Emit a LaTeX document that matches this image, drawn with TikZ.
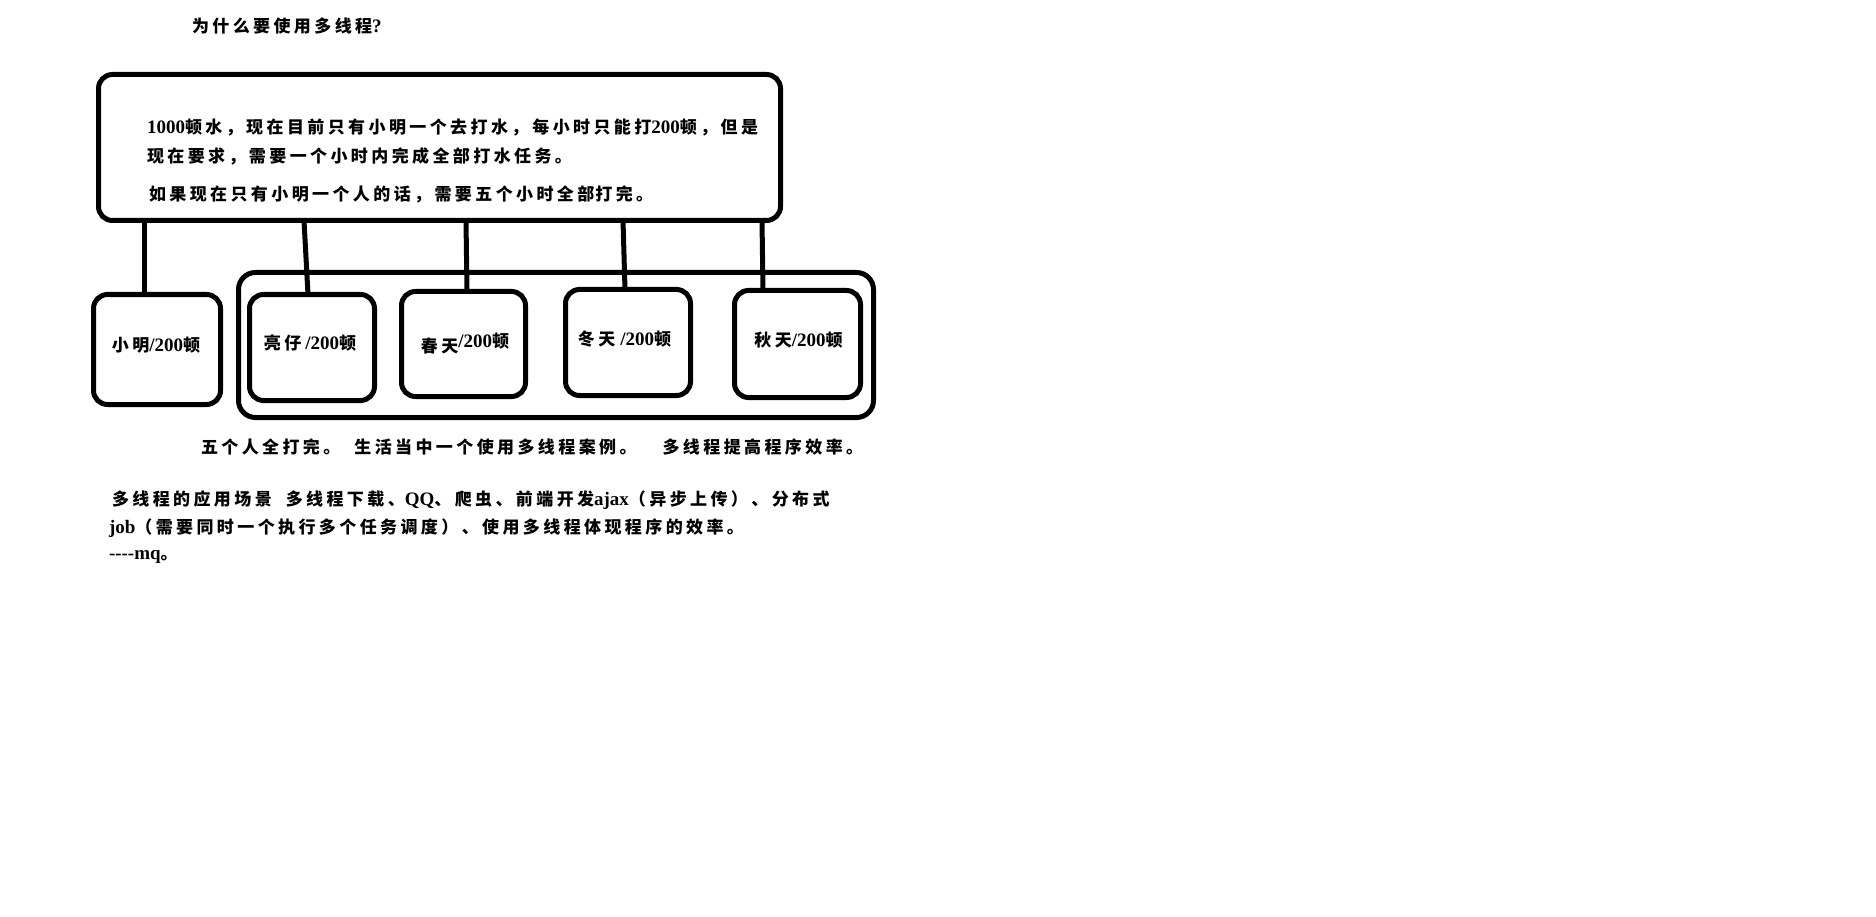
\documentclass[tikz,border=0pt]{standalone}
\usepackage{fontspec}
% Chinese body text: heavy sans with a little tracking; Latin runs in a bold serif
\setmainfont{Noto Sans CJK SC}[LetterSpace=20]
\newfontfamily\latinfont{Liberation Serif}
\newcommand\lat[1]{{\latinfont\bfseries\fontsize{19}{22}\selectfont #1}}
\newcommand\bodyfont{\fontsize{17}{20}\selectfont\bfseries}

\begin{document}
\begin{tikzpicture}[x=1pt,y=-1pt,
  every node/.style={inner sep=0pt,outer sep=0pt},
  frame/.style={draw=black,line width=5pt,rounded corners=14pt},
  link/.style={draw=black,line width=5pt},
  txt/.style={anchor=base west,font=\bodyfont},
  lbl/.style={anchor=base,font=\bodyfont}]

\path[use as bounding box,fill=white] (0,0) rectangle (1876,917);

% heading
\node[txt] (title) at (192,33) {为什么要使用多线程\lat{?}};

% problem statement box
\node[frame,minimum width=682pt,minimum height=146pt] (main) at (439.5,147.5) {};
\node[txt] (l1) at (147,134) {\lat{1000}顿水，现在目前只有小明一个去打水，\hspace{4pt}每小时只能打\lat{200}顿，但是};
\node[txt] (l2) at (147,163) {现在要求，需要一个小时内完成全部打水任务。};
\node[txt] (l3) at (149,201) {如果现在只有小明一个人的话，需要五个小时全部\hspace{1pt}打完。};

% single worker
\node[frame,minimum width=127pt,minimum height=110pt] (xm) at (157,349.5) {};
\node[lbl] (xmt) at (156,351) {小明\lat{/200}顿};

% group of five workers
\node[frame,rounded corners=17pt,minimum width=635pt,minimum height=145pt] (grp) at (556,345) {};
\node[frame,minimum width=125pt,minimum height=106pt] (lz) at (312,347.5) {};
\node[frame,minimum width=124pt,minimum height=105pt] (ct) at (463.5,344) {};
\node[frame,minimum width=125pt,minimum height=106pt] (dt) at (628,342.5) {};
\node[frame,minimum width=126pt,minimum height=107pt] (qt) at (797.5,344) {};

\node[lbl] (lzt) at (310,349) {亮仔\hspace{4pt}\lat{/200}顿};
\node[lbl] (ctt) at (465,352) {春天\raisebox{5pt}{\lat{/200}顿}};
\node[lbl] (dtt) at (624.5,345) {冬天\hspace{5pt}\lat{/200}顿};
\node[lbl] (qtt) at (798.5,346) {秋天\lat{/200}顿};

% connectors from the statement box down to each worker
\coordinate (a1) at (144,0);  \coordinate (b1) at (144,0);
\coordinate (a2) at (304,0);  \coordinate (b2) at (308,0);
\coordinate (a3) at (466,0);  \coordinate (b3) at (467,0);
\coordinate (a4) at (623,0);  \coordinate (b4) at (625,0);
\coordinate (a5) at (762,0);  \coordinate (b5) at (763,0);
\draw[link] (main.south -| a1) -- (xm.north -| b1);
\draw[link] (main.south -| a2) -- (lz.north -| b2);
\draw[link] (main.south -| a3) -- (ct.north -| b3);
\draw[link] (main.south -| a4) -- (dt.north -| b4);
\draw[link] (main.south -| a5) -- (qt.north -| b5);

% notes underneath
\node[txt] (n1) at (201,453) {五个人全打完。\hspace{14pt}生活当中一个使用多线程案例。\hspace{26pt}多线程提高程序效率。};
\node[txt] (n2) at (112,505) {多线程的应用场景\hspace{14pt}多线程下载、\lat{QQ}、爬虫、前端开发\lat{ajax}（异步上传）、分布式};
\node[txt] (n3) at (109,533) {\lat{job}（需要同时一个执行多个任务调度）、使用多线程体现程序的效率。};
\node[txt] (n4) at (109,559) {\lat{----mq}。};

\end{tikzpicture}
\end{document}
